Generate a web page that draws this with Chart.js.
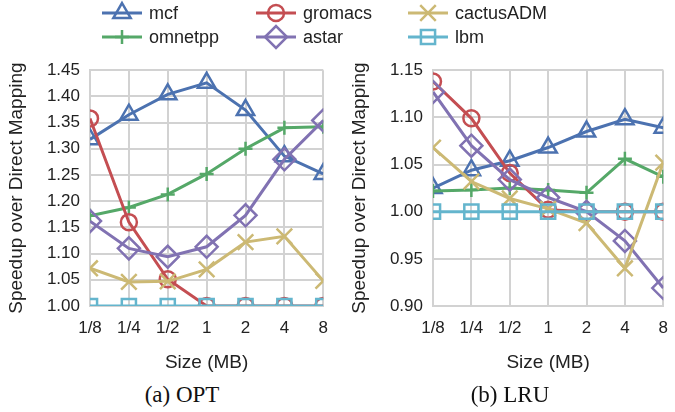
<!DOCTYPE html>
<html>
<head>
<meta charset="utf-8">
<script src="https://cdn.jsdelivr.net/npm/chart.js@4.4.0/dist/chart.umd.min.js"></script>
<style>
  html, body { margin: 0; padding: 0; background: #fff; overflow: hidden; }
  body { width: 675px; height: 412px; position: relative; }
  canvas { position: absolute; }
  #legend { left: 0; top: 0; }
  #optChart { left: 0; top: 50px; }
  #lruChart { left: 335px; top: 50px; }
  .caption { position: absolute; top: 382px; font: 23px "Liberation Serif", "Times New Roman", serif; color: #111; text-align: center; width: 200px; }
</style>
</head>
<body>
<canvas id="legend" width="675" height="50"></canvas>
<canvas id="optChart" width="340" height="330"></canvas>
<canvas id="lruChart" width="345" height="330"></canvas>
<div class="caption" style="left:82px">(a) OPT</div>
<div class="caption" style="left:410px">(b) LRU</div>
<script>
// categories
const sizes = ['1/8', '1/4', '1/2', '1', '2', '4', '8'];

// series, in plot order (matplotlib-style, last one on top)
const names = ['mcf', 'omnetpp', 'gromacs', 'astar', 'cactusADM', 'lbm'];
const colors = ['#4C72B0', '#55A868', '#C44E52', '#8172B2', '#CCB974', '#64B5CD'];
const markers = ['triangle', 'cross', 'circle', 'rectRot', 'crossRot', 'rect'];
const markerSize = [10, 7, 8, 11, 11, 10];

// (a) OPT
const optMcf     = [1.318, 1.365, 1.404, 1.426, 1.374, 1.286, 1.252];
const optOmnetpp = [1.172, 1.188, 1.213, 1.252, 1.300, 1.340, 1.342];
const optGromacs = [1.358, 1.160, 1.051, 1.000, 1.000, 1.000, 1.000];
const optAstar   = [1.162, 1.110, 1.094, 1.113, 1.173, 1.280, 1.354];
const optCactus  = [1.072, 1.046, 1.047, 1.070, 1.122, 1.133, 1.048];
const optLbm     = [1.000, 1.000, 1.000, 1.000, 1.000, 1.000, 1.000];

// (b) LRU
const lruMcf     = [1.025, 1.044, 1.054, 1.068, 1.085, 1.098, 1.089];
const lruOmnetpp = [1.022, 1.023, 1.025, 1.023, 1.020, 1.056, 1.037];
const lruGromacs = [1.138, 1.099, 1.041, 1.002, 1.000, 1.000, 1.000];
const lruAstar   = [1.127, 1.070, 1.034, 1.015, 1.000, 0.969, 0.919];
const lruCactus  = [1.068, 1.032, 1.014, 1.003, 0.988, 0.940, 1.052];
const lruLbm     = [1.000, 1.000, 1.000, 1.000, 1.000, 1.000, 1.000];

const optSeries = [optMcf, optOmnetpp, optGromacs, optAstar, optCactus, optLbm];
const lruSeries = [lruMcf, lruOmnetpp, lruGromacs, lruAstar, lruCactus, lruLbm];

const FONT = '"Liberation Sans", Arial, sans-serif';
const TEXT = '#222';
const GRID = '#d2d2d2';

function makeDatasets(series) {
  return series.map((data, i) => ({
    label: names[i],
    data: data,
    borderColor: colors[i],
    backgroundColor: 'rgba(0,0,0,0)',
    borderWidth: 3,
    pointStyle: markers[i],
    pointRadius: markerSize[i],
    pointBorderWidth: 2.5,
    pointBackgroundColor: 'rgba(0,0,0,0)',
    pointBorderColor: colors[i],
    tension: 0,
    clip: 0,
    order: series.length - i,
  }));
}

function makeChart(id, series, yMin, yMax, yAxisWidth, titlePad, padRight) {
  return new Chart(document.getElementById(id), {
    type: 'line',
    data: { labels: sizes, datasets: makeDatasets(series) },
    options: {
      responsive: false,
      animation: false,
      layout: { padding: { top: 11, right: padRight, bottom: 0, left: 0 } },
      plugins: { legend: { display: false }, tooltip: { enabled: false } },
      scales: {
        x: {
          grid: { color: GRID, lineWidth: 2, drawTicks: false },
          border: { color: GRID, width: 2 },
          ticks: { color: TEXT, font: { family: FONT, size: 17 }, padding: 12, maxRotation: 0 },
          title: { display: true, text: 'Size (MB)', color: TEXT, font: { family: FONT, size: 19 }, padding: { top: 0, bottom: 6 } },
          afterFit: function (axis) { axis.height = 74; },
        },
        y: {
          min: yMin,
          max: yMax,
          grid: { color: GRID, lineWidth: 2, drawTicks: false },
          border: { color: GRID, width: 2 },
          ticks: {
            stepSize: 0.05,
            color: TEXT,
            font: { family: FONT, size: 17 },
            padding: 10,
            callback: function (v) { return v.toFixed(2); },
          },
          title: { display: true, text: 'Speedup over Direct Mapping', color: TEXT, font: { family: FONT, size: 19 }, padding: { top: titlePad, bottom: 0 } },
          afterFit: function (axis) { axis.width = yAxisWidth; },
        },
      },
    },
  });
}

makeChart('optChart', optSeries, 1.0, 1.45, 90, 5, 12);
makeChart('lruChart', lruSeries, 0.9, 1.15, 98, 13, 9);

// shared legend, 3 columns filled column by column
const legendX = [102, 256, 408];
const legendY = [13, 37];

function drawLegend() {
  const ctx = document.getElementById('legend').getContext('2d');
  names.forEach((name, i) => {
    const x0 = legendX[Math.floor(i / 2)];
    const y = legendY[i % 2];
    ctx.strokeStyle = colors[i];
    ctx.lineWidth = 3;
    ctx.beginPath();
    ctx.moveTo(x0, y);
    ctx.lineTo(x0 + 40, y);
    ctx.stroke();
    ctx.lineWidth = 2.5;
    ctx.fillStyle = 'rgba(0,0,0,0)';
    Chart.helpers.drawPoint(ctx, { pointStyle: markers[i], radius: markerSize[i], borderWidth: 2.5, rotation: 0 }, x0 + 20, y);
    ctx.fillStyle = TEXT;
    ctx.font = '18px ' + FONT;
    ctx.textBaseline = 'middle';
    ctx.fillText(name, x0 + 47, y + 1);
  });
}
drawLegend();
</script>
</body>
</html>
